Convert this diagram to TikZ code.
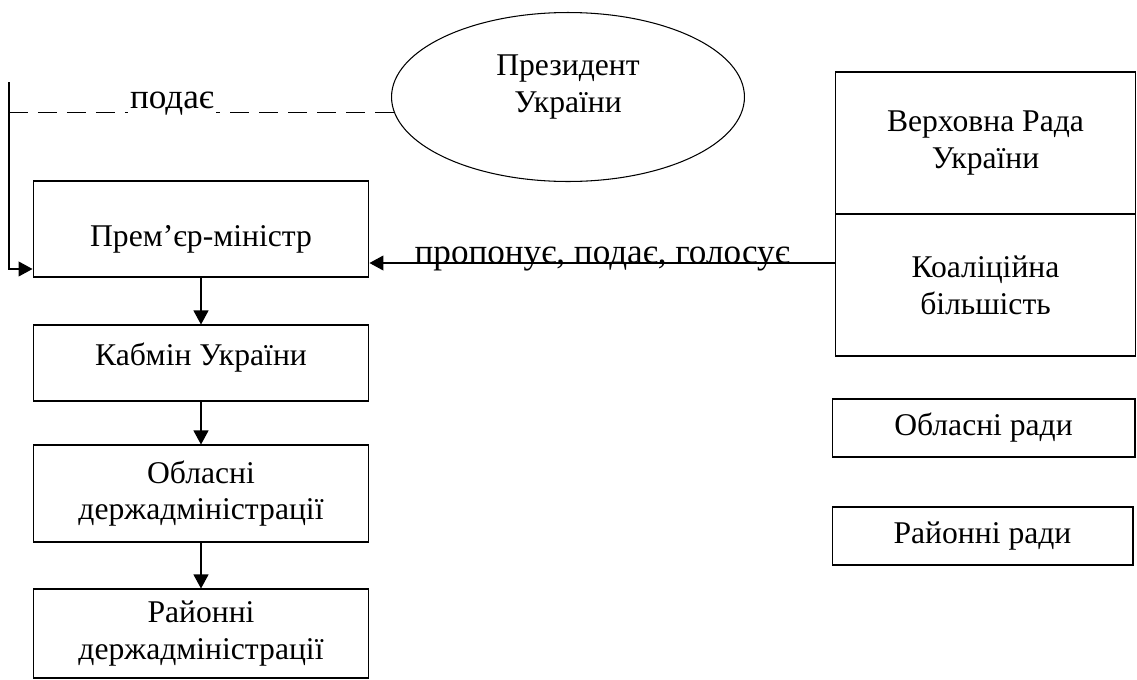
\documentclass[tikz,border=0pt]{standalone}
\usepackage{fontspec}
\setmainfont{Liberation Serif}
\usetikzlibrary{%
  positioning
 ,shapes
 ,arrows.meta
 ,calc
}
\tikzstyle{box}=[rectangle,draw=black,line width=0.6pt,align=center,inner sep=2pt,
  minimum width=6.72cm,font=\fontsize{18}{21}\selectfont]
\tikzstyle{rbox}=[box,minimum width=6cm,minimum height=2.84cm]
\tikzstyle{sbox}=[box,minimum width=6.06cm,minimum height=1.16cm]
\tikzstyle{ell}=[ellipse,draw=black,line width=0.6pt,align=center,inner sep=0pt,
  minimum width=7.06cm,minimum height=3.38cm,text depth=0.52cm,
  font=\fontsize{18}{21}\selectfont]
\tikzstyle{arr}=[line width=0.6pt,-{Triangle[length=0.28cm,width=0.3cm]}]
\tikzstyle{lbl}=[inner sep=1pt,font=\fontsize{20}{23}\selectfont]
\tikzstyle{dsh}=[line width=0.6pt,dash pattern=on 0.38cm off 0.2cm]

\begin{document}
\begin{tikzpicture}[x=0.02cm,y=-0.02cm]
  \useasboundingbox (0,0) rectangle (1137,680);
% left column
  \node[box,minimum height=1.92cm,text height=0.83cm] (pm) at (201,229) {Прем’єр-міністр};
  \node[box,minimum height=1.52cm,text depth=0.36cm] (kab) at (201,363) {Кабмін України};
  \node[box,minimum height=1.94cm] (oda) at (201,493.5) {Обласні\\держадміністрації};
  \node[box,minimum height=1.78cm] (rda) at (201,633.5) {Районні\\держадміністрації};
% president
  \node[ell] (pres) at (568,97) {Президент\\України};
% right column
  \node[rbox] (vr) at (985.5,143) {Верховна Рада\\України};
  \node[rbox] (kb) at (985.5,285) {Коаліційна\\більшість};
  \node[sbox] (orad) at (983.5,428) {Обласні ради};
  \node[sbox,minimum width=6.02cm] (rrad) at (982.5,536) {Районні ради};
%
  \path[arr]
  (pm)  edge (kab)
  (kab) edge (oda)
  (oda) edge (rda);

  \coordinate (kb_in) at ([yshift=0.44cm]kb.west);
  \draw[arr] (kb_in) -- (kb_in -| pm.east)
    node[lbl,midway,yshift=0.08cm] (l_vote) {пропонує, подає, голосує};

  \coordinate (c_top) at (9,82);
  \node[lbl,anchor=base] (l_pod) at (172,108) {подає};
  \draw[arr] (c_top) |- ([yshift=-0.8cm]pm.west);
  \draw[dsh] (pres.185 -| c_top) -- (pres.185 -| l_pod.west);
  \draw[dsh] (pres.185) -- (pres.185 -| l_pod.east);
\end{tikzpicture}
\end{document}
